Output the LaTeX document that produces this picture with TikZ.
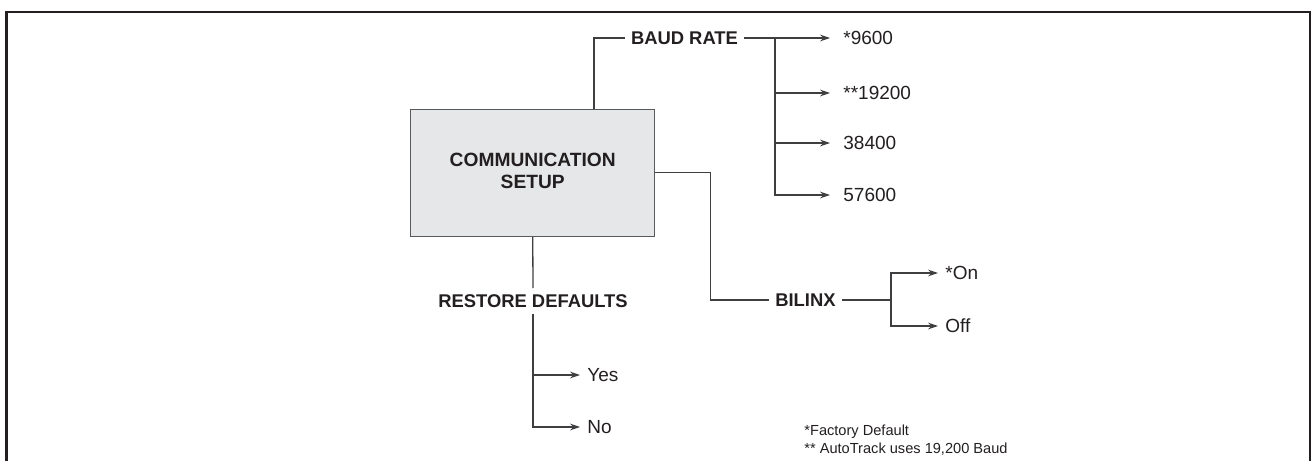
\documentclass[tikz,border=0pt]{standalone}
\usepackage{fontspec}
\setmainfont{Liberation Sans}
\usetikzlibrary{arrows.meta,positioning,calc}
\definecolor{cmInk}{HTML}{231F20}
\definecolor{cmLine}{HTML}{3F3F41}
\definecolor{cmBox}{HTML}{E6E7E8}
\definecolor{cmEdge}{HTML}{58595B}
\tikzset{
    >={Stealth[length=5pt,width=3.4pt]},
    frame/.style={draw=cmInk, line width=1.15pt},
    setupbox/.style={draw=cmEdge, line width=0.6pt, fill=cmBox, text=cmInk, minimum width=122pt, minimum height=63.5pt, font=\fontsize{9.6}{11}\selectfont\bfseries},
    menu/.style={text=cmInk, inner sep=3pt, text height=6.6pt, text depth=0pt, font=\fontsize{9.2}{11}\selectfont\bfseries},
    opt/.style={text=cmInk, anchor=west, inner sep=0pt, text height=6.8pt, text depth=0pt, font=\fontsize{9.5}{11}\selectfont},
    note/.style={text=cmInk, anchor=west, inner sep=0pt, text height=5.2pt, text depth=0pt, font=\fontsize{7.3}{9}\selectfont},
    conn/.style={draw=cmLine, line width=0.65pt},
    arrow/.style={conn, ->, shorten >=3.5pt},
    longarrow/.style={conn, ->, shorten >=6.5pt}
}
\begin{document}
\begin{tikzpicture}[x=0.5pt,y=-0.5pt]
\useasboundingbox (0,0) rectangle (1314,461);
\draw[frame] (6.5,461) |- (1310,11.7) -- (1310,461);

\node[setupbox] (comm) at (532.75,172.75)
    {\raisebox{-2.5pt}{\begin{tabular}{@{}c@{}}COMMUNICATION\\SETUP\end{tabular}}};

% baud rate branch
\node[menu] (baud) at (684.5,38) {BAUD RATE};
\coordinate (bsplit) at (775,38);
\node[opt] (r9600) at (843,38) {*9600};
\node[opt] (r19200) at (843,93) {**19200};
\node[opt] (r38400) at (843,143) {38400};
\node[opt] (r57600) at (843,195) {57600};
\draw[conn] ($(comm.north)+(61.25,0)$) |- (baud.west);
\draw[longarrow] (baud.east) -- (r9600.west);
\foreach \n in {r19200,r38400,r57600}
    \draw[longarrow] (bsplit) |- (\n.west);

% bilinx branch
\node[menu] (bilinx) at (805.5,300) {BILINX};
\coordinate (lsplit) at (891,300);
\node[opt] (on) at (945,273) {*On};
\node[opt] (off) at (945,326) {Off};
\draw[conn] (comm.east) -- ++(55,0) |- (bilinx.west);
\draw[conn] (bilinx.east) -- (lsplit);
\foreach \n in {on,off}
    \draw[arrow] (lsplit) |- (\n.west);

% restore defaults branch
\node[menu] (restore) at (533,301) {RESTORE DEFAULTS};
\node[opt] (yes) at (587,375) {Yes};
\node[opt] (no) at (587,427) {No};
\draw[conn] (comm.south) -- (restore.north);
\foreach \n in {yes,no}
    \draw[arrow] (restore.south) |- (\n.west);

\node[note] (fnote1) at (804,430) {*Factory Default};
\node[note] (fnote2) at (804,448) {** AutoTrack uses 19,200 Baud};
\end{tikzpicture}
\end{document}
